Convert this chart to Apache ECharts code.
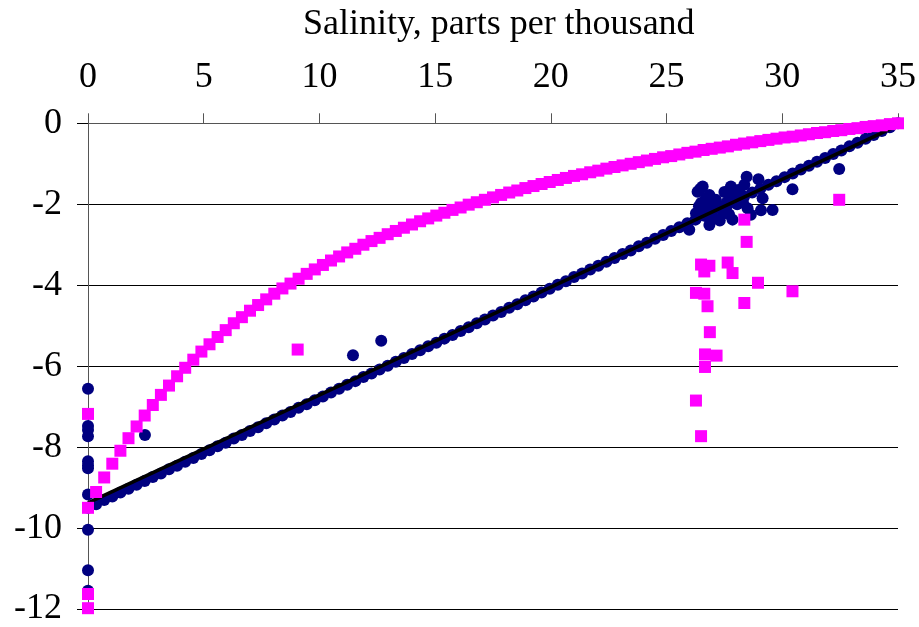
<!DOCTYPE html>
<html>
<head>
<meta charset="utf-8">
<script src="https://cdn.jsdelivr.net/npm/echarts@6/dist/echarts.min.js"></script>
<style>
html,body{margin:0;padding:0;background:#fff;}
#chart{width:919px;height:627px;}
</style>
</head>
<body>
<div id="chart"></div>
<script>
// ---- data ----
var xTickValues = [0, 5, 10, 15, 20, 25, 30, 35];
var yTickValues = [0, -2, -4, -6, -8, -10, -12];

// salinity positions of the modelled mixing points
var mixSalinity = [
  0,0.35,0.7,1.05,1.4,1.75,2.1,2.45,2.8,3.15,3.5,3.85,4.2,4.55,4.9,5.25,5.6,5.95,6.3,6.65,
  7,7.35,7.7,8.05,8.4,8.75,9.1,9.45,9.8,10.15,10.5,10.85,11.2,11.55,11.9,12.25,12.6,12.95,13.3,13.65,
  14,14.35,14.7,15.05,15.4,15.75,16.1,16.45,16.8,17.15,17.5,17.85,18.2,18.55,18.9,19.25,19.6,19.95,20.3,20.65,
  21,21.35,21.7,22.05,22.4,22.75,23.1,23.45,23.8,24.15,24.5,24.85,25.2,25.55,25.9,26.25,26.6,26.95,27.3,27.65,
  28,28.35,28.7,29.05,29.4,29.75,30.1,30.45,30.8,31.15,31.5,31.85,32.2,32.55,32.9,33.25,33.6,33.95,34.3,34.65,
  35
];
// navy circles: conservative (straight) mixing
var mixLineValues = [
  -9.50,-9.41,-9.31,-9.22,-9.12,-9.03,-8.93,-8.84,-8.74,-8.65,
  -8.55,-8.46,-8.36,-8.27,-8.17,-8.08,-7.98,-7.89,-7.79,-7.70,
  -7.60,-7.51,-7.41,-7.32,-7.22,-7.13,-7.03,-6.94,-6.84,-6.75,
  -6.65,-6.56,-6.46,-6.37,-6.27,-6.18,-6.08,-5.99,-5.89,-5.80,
  -5.70,-5.61,-5.51,-5.42,-5.32,-5.23,-5.13,-5.04,-4.94,-4.85,
  -4.75,-4.66,-4.56,-4.47,-4.37,-4.28,-4.18,-4.09,-3.99,-3.90,
  -3.80,-3.71,-3.61,-3.52,-3.42,-3.33,-3.23,-3.14,-3.04,-2.95,
  -2.85,-2.76,-2.66,-2.57,-2.47,-2.38,-2.28,-2.19,-2.09,-2.00,
  -1.90,-1.81,-1.71,-1.62,-1.52,-1.43,-1.33,-1.24,-1.14,-1.05,
  -0.95,-0.86,-0.76,-0.67,-0.57,-0.48,-0.38,-0.29,-0.19,-0.10,
  0
];
// magenta squares: curved mixing
var mixCurveValues = [
  -9.50,-9.11,-8.75,-8.41,-8.09,-7.78,-7.49,-7.22,-6.96,-6.71,
  -6.48,-6.25,-6.04,-5.84,-5.64,-5.46,-5.28,-5.11,-4.94,-4.79,
  -4.63,-4.49,-4.35,-4.21,-4.08,-3.96,-3.84,-3.72,-3.61,-3.50,
  -3.39,-3.29,-3.19,-3.10,-3.00,-2.91,-2.83,-2.74,-2.66,-2.58,
  -2.50,-2.42,-2.35,-2.28,-2.21,-2.14,-2.08,-2.01,-1.95,-1.89,
  -1.83,-1.77,-1.71,-1.66,-1.60,-1.55,-1.50,-1.45,-1.40,-1.35,
  -1.30,-1.26,-1.21,-1.17,-1.12,-1.08,-1.04,-1.00,-0.96,-0.92,
  -0.88,-0.84,-0.81,-0.77,-0.73,-0.70,-0.66,-0.63,-0.60,-0.57,
  -0.53,-0.50,-0.47,-0.44,-0.41,-0.38,-0.35,-0.33,-0.30,-0.27,
  -0.24,-0.22,-0.19,-0.17,-0.14,-0.12,-0.09,-0.07,-0.05,-0.02,
  0
];
// observed samples (navy circles)
var navyObsSalinity = [0,0,0,0,0,0,0,0,0,0,0,2.46,11.45,12.67,
  25.98,26.27,26.34,26.45,26.56,26.49,26.6,26.75,26.85,26.85,26.95,27.0,27.13,27.2,27.3,27.45,
  27.6,27.78,27.85,27.9,28.05,28.2,28.36,28.46,28.5,28.64,28.97,29.15,29.08,29.58,30.44,32.46,
  26.4,26.7,27.05,27.5,27.7,28.1,28.3];
var navyObsValues = [-6.56,-7.48,-7.58,-7.73,-8.35,-8.45,-8.52,-9.17,-10.04,-11.04,-11.55,-7.70,-5.73,-5.37,
  -2.63,-2.22,-1.69,-1.62,-1.56,-1.97,-2.10,-2.30,-2.51,-1.77,-1.95,-2.15,-1.89,-2.05,-2.40,-2.20,
  -1.95,-1.56,-2.38,-1.80,-2.00,-1.75,-1.52,-1.32,-2.10,-2.26,-1.38,-1.85,-2.15,-2.14,-1.63,-1.13,
  -2.05,-1.85,-2.35,-1.70,-2.25,-1.65,-1.95];
// observed samples (magenta squares)
var magentaObsSalinity = [0,0,0,9.06,28.36,28.46,26.49,26.85,27.64,26.63,27.85,28.95,30.44,26.27,26.63,
  26.77,28.36,26.87,26.66,27.16,26.66,26.27,26.49,32.46];
var magentaObsValues = [-7.18,-11.63,-11.98,-5.59,-2.38,-2.93,-3.49,-3.52,-3.44,-3.66,-3.70,-3.94,-4.15,-4.19,-4.21,
  -4.52,-4.44,-5.16,-5.71,-5.74,-6.02,-6.85,-7.73,-1.89];
// fitted straight line end points
var fitLineSalinity = [0, 35];
var fitLineValues = [-9.38, -0.05];

// ---- build ----
function zip(a, b) { var out = []; for (var i = 0; i < a.length; i++) out.push([a[i], b[i]]); return out; }
var FONT = "'Liberation Serif','Times New Roman',serif";

var chart = echarts.init(document.getElementById('chart'), null, {renderer: 'canvas'});
chart.setOption({
  animation: false,
  backgroundColor: '#ffffff',
  title: {
    text: 'Salinity, parts per thousand',
    left: 298, top: 2,
    textStyle: {fontFamily: FONT, fontSize: 36, fontWeight: 'normal', color: '#000'}
  },
  grid: {left: 88, right: 20.5, top: 123.3, bottom: 17},
  xAxis: {
    type: 'value', position: 'top', min: xTickValues[0], max: xTickValues[xTickValues.length - 1], interval: 5,
    axisLine: {show: true, onZero: false, lineStyle: {color: '#555', width: 1}},
    axisTick: {show: true, inside: false, length: 10, lineStyle: {color: '#555'}},
    axisLabel: {fontFamily: FONT, fontSize: 36, color: '#000', margin: 28},
    splitLine: {show: false}
  },
  yAxis: {
    type: 'value', min: yTickValues[yTickValues.length - 1], max: yTickValues[0], interval: 2,
    axisLine: {show: true, onZero: false, lineStyle: {color: '#555', width: 1}},
    axisTick: {show: true, length: 11, lineStyle: {color: '#000'}},
    axisLabel: {fontFamily: FONT, fontSize: 36, color: '#000', margin: 26},
    splitLine: {show: true, lineStyle: {color: '#000', width: 1}}
  },
  series: [
    {type: 'scatter', name: 'mix line', data: zip(mixSalinity, mixLineValues), symbol: 'circle', symbolSize: 12,
      itemStyle: {color: '#000080', opacity: 1}, z: 2},
    {type: 'scatter', name: 'obs navy', data: zip(navyObsSalinity, navyObsValues), symbol: 'circle', symbolSize: 12,
      itemStyle: {color: '#000080', opacity: 1}, z: 2},
    {type: 'line', name: 'fit', data: zip(fitLineSalinity, fitLineValues), showSymbol: false, symbol: 'none',
      lineStyle: {color: '#000', width: 3.5}, z: 3},
    {type: 'scatter', name: 'mix curve', data: zip(mixSalinity, mixCurveValues), symbol: 'rect', symbolSize: 12,
      itemStyle: {color: '#ff00ff', opacity: 1}, z: 4},
    {type: 'scatter', name: 'obs magenta', data: zip(magentaObsSalinity, magentaObsValues), symbol: 'rect', symbolSize: 12,
      itemStyle: {color: '#ff00ff', opacity: 1}, z: 4}
  ]
});
</script>
</body>
</html>
